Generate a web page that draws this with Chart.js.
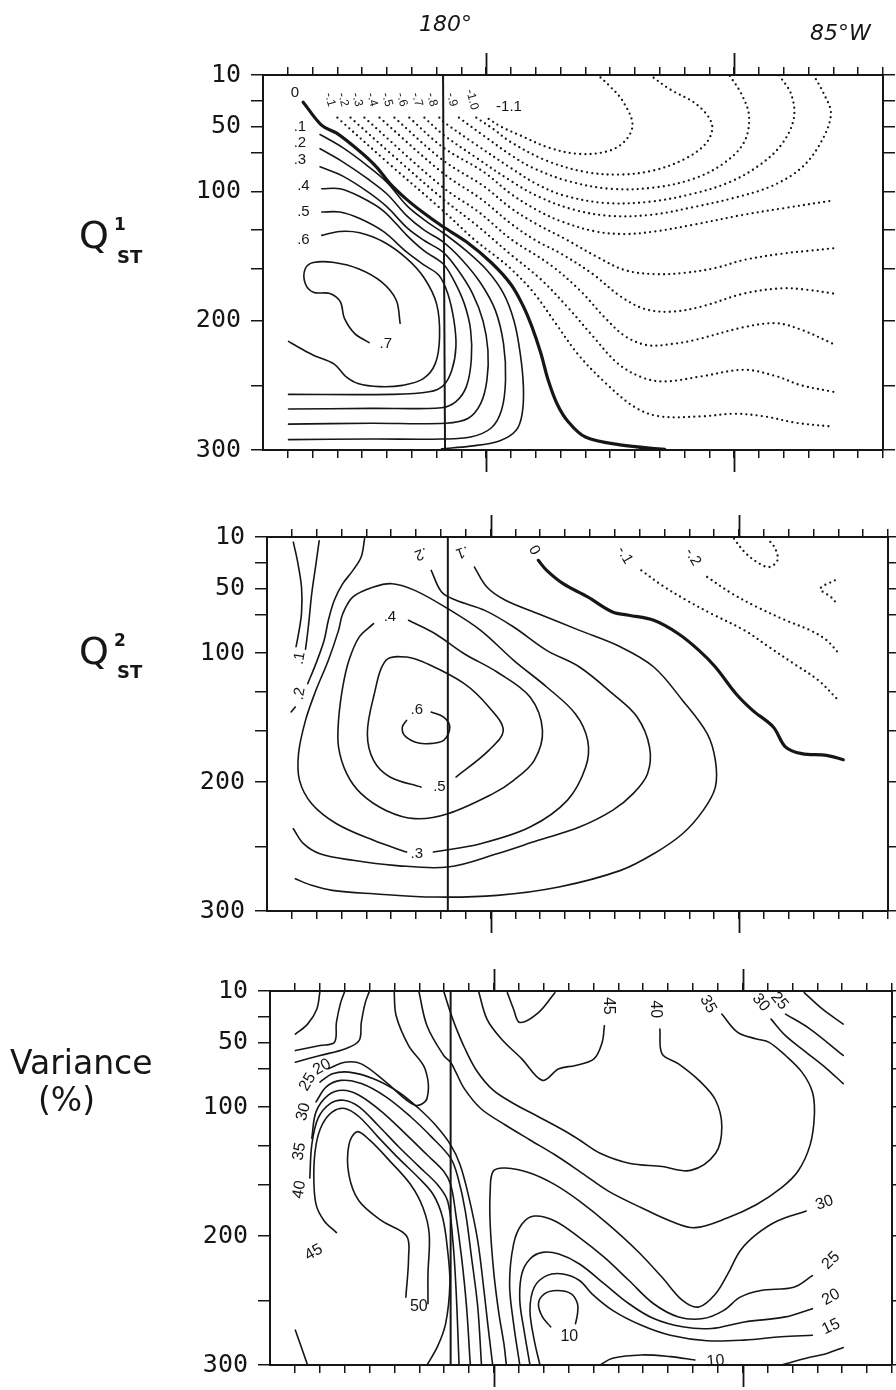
<!DOCTYPE html>
<html>
<head>
<meta charset="utf-8">
<title>Q_ST modes and explained variance</title>
<script src="https://cdn.jsdelivr.net/npm/chart.js"></script>
<style>
  body { margin: 0; background: #fff; }
  #page { position: relative; width: 896px; height: 1390px; overflow: hidden; }
  canvas { position: absolute; left: 0; }
  .hand { position: absolute; font-family: "DejaVu Sans", sans-serif; color: #161616; white-space: nowrap; line-height: 1; }
</style>
</head>
<body>
<div id="page">
  <canvas id="p1" width="896" height="490" style="top:0px"></canvas>
  <canvas id="p2" width="896" height="460" style="top:490px"></canvas>
  <canvas id="p3" width="896" height="440" style="top:950px"></canvas>

  <div class="hand" style="left:419px;top:13px;font-size:22px;font-style:italic">180°</div>
  <div class="hand" style="left:810px;top:22px;font-size:22px;font-style:italic">85°W</div>

  <div class="hand" style="left:79px;top:216px;font-size:38px">Q</div>
  <div class="hand" style="left:114px;top:216px;font-size:17px;font-weight:bold">1</div>
  <div class="hand" style="left:117px;top:248px;font-size:18px;font-weight:bold">ST</div>

  <div class="hand" style="left:79px;top:632px;font-size:38px">Q</div>
  <div class="hand" style="left:114px;top:632px;font-size:17px;font-weight:bold">2</div>
  <div class="hand" style="left:117px;top:663px;font-size:18px;font-weight:bold">ST</div>

  <div class="hand" style="left:10px;top:1046px;font-size:33px">Variance</div>
  <div class="hand" style="left:38px;top:1083px;font-size:33px">(%)</div>
</div>

<script>
// depth axis (m) and longitude grid columns
const depthTicks = [10, 30, 50, 70, 100, 130, 160, 200, 250, 300];
const depthLabels = [10, 50, 100, 200, 300];
const lonTicks = [1, 2, 3, 4, 5, 6, 7, 8, 9, 10, 11, 12, 13, 14, 15, 16, 17, 18, 19, 20, 21, 22, 23, 24, 25];
const majorLon = [9, 19];

// ---------- Q1 ST ----------
const q1Meridian = [7.26, 7.34];
const q1Zero = [[1.62,31],[2.37,49],[2.97,55],[3.9,69],[4.57,81],[5.12,94],[5.78,106],[6.43,116],[7.23,127],[8.2,139],[9.2,155],[10.0,172],[10.5,189],[10.85,205],[11.2,225],[11.5,246],[11.85,264],[12.3,278],[13.0,290],[14.4,296],[16.2,299.5]];
const q1P1 = [[2.3,56],[3.2,66],[4.2,80],[5.0,93],[5.8,111],[6.5,122],[7.26,132],[8.2,146],[9.03,161],[9.7,179],[10.12,200],[10.37,225],[10.5,251],[10.45,272],[10.2,285],[9.53,293],[8.37,297],[7.2,299]];
const q1P2 = [[2.3,67],[3.2,77],[4.2,90],[5.0,102],[5.8,119],[6.5,130],[7.26,139],[8.03,153],[8.78,171],[9.37,192],[9.7,218],[9.78,246],[9.62,269],[9.2,283],[8.37,290],[7.2,291.5],[4.37,291.5],[1.03,292]];
const q1P3 = [[2.3,81],[3.2,88],[4.2,100],[5.0,112],[5.8,128],[6.5,138],[7.26,147],[7.87,161],[8.45,179],[8.87,200],[9.07,223],[9.03,246],[8.78,264],[8.28,275.5],[7.37,279.3],[4.37,279.3],[1.03,280]];
const q1P4 = [[2.37,98],[3.1,98],[3.9,104],[4.85,115],[5.8,134],[6.5,146],[7.26,156],[7.7,169],[8.12,187],[8.37,207],[8.4,230],[8.2,251],[7.78,262.6],[7.2,267.3],[4.37,267.8],[1.03,268.3]];
const q1P5 = [[2.37,116],[3.1,116],[3.9,121],[4.85,131],[5.8,147],[6.5,157],[7.1,165],[7.45,179],[7.7,200],[7.78,220],[7.62,238],[7.28,250],[6.7,255],[5.2,257],[1.03,257]];
const q1P6 = [[2.37,134],[3.1,131],[3.9,132],[4.85,139],[5.8,152],[6.5,167],[7.0,187],[7.12,212],[6.95,233],[6.45,245],[5.62,250],[4.7,251],[3.83,248.5],[3.33,243],[2.87,233.6],[2.03,226.7],[1.45,220.7],[1.03,216]];
const q1P7 = [[5.53,202],[5.37,184],[4.78,170],[3.87,160],[2.87,155],[2.03,155],[1.7,160],[1.7,171],[2.03,178],[2.7,179],[3.12,185.5],[3.28,198],[3.7,210],[4.28,217]];
const q1N1 = [[3.0,43],[5.1,79],[7.26,115],[8.5,137],[9.5,152],[10.0,160],[10.9,178],[11.8,202],[12.7,226],[13.8,248],[15.0,267],[16.0,274],[17.7,274],[19.0,272],[20.2,274],[21.5,279],[23.0,282]];
const q1N2 = [[3.53,43],[5.4,75],[7.26,106],[8.6,126],[10.0,149],[11.2,168],[12.3,190],[13.3,212],[14.3,233],[15.3,244],[16.2,247],[17.7,243],[19.4,238],[20.7,243],[21.7,250],[23.0,255]];
const q1N3 = [[4.09,43],[7.26,97],[8.7,116],[10.0,137],[11.6,157],[12.8,177],[13.8,198],[14.6,212],[15.5,219],[16.5,218],[17.4,215],[19.4,205],[20.7,202],[21.7,207],[23.0,218]];
const q1N4 = [[4.7,43],[7.26,86],[8.8,106],[10.0,125],[11.0,138],[12.0,148],[13.3,164],[14.4,181],[15.4,191],[16.5,193],[17.7,189],[19.4,179],[20.9,175],[21.9,176],[23.0,179]];
const q1N5 = [[5.3,43],[7.26,76],[8.9,96],[10.0,113],[11.0,125],[12.2,137],[13.5,151],[14.6,161],[15.8,164],[17.0,163],[18.3,159],[19.4,153],[21.0,148],[22.0,146],[23.0,144]];
const q1N6 = [[5.9,43],[7.26,66],[8.9,85],[10.0,102],[11.0,114],[12.0,123],[13.4,131],[14.6,133],[15.8,131],[17.3,126],[19.4,118],[21.0,113],[23.0,107]];
const q1N7 = [[6.51,43],[7.26,56],[8.6,74],[10.0,92],[11.1,104],[12.5,114],[14.0,119],[15.7,118],[17.4,112],[19.0,105],[20.5,96],[21.7,82],[22.5,62],[22.9,40],[22.6,24],[22.2,10]];
const q1N8 = [[7.11,43],[7.26,46],[8.6,64],[10.0,82],[11.0,94],[12.1,103],[13.8,109],[15.6,108],[17.3,102],[18.8,93],[20.0,80],[20.9,64],[21.4,44],[21.3,25],[20.8,10]];
const q1N9 = [[7.9,43],[8.9,57],[10.0,72],[10.9,82],[12.3,92],[14.0,98],[15.8,97],[17.4,90],[18.6,78],[19.4,62],[19.6,42],[19.3,25],[18.8,10]];
const q1N10 = [[8.6,43],[9.3,52],[10.0,62],[11.4,76],[13.0,85],[14.4,87],[15.7,84],[17.0,75],[17.9,62],[18.1,48],[17.5,33],[16.4,21],[15.6,10]];
const q1N11 = [[9.1,44],[9.6,50],[10.4,57],[11.5,66],[12.7,71],[13.9,69],[14.6,61],[14.9,48],[14.5,30],[14.0,19],[13.5,10]];
const q1Labels = [[1.29,24,'0'],[1.49,50,'.1'],[1.49,62.6,'.2'],[1.49,75.7,'.3'],[1.63,95.8,'.4'],[1.63,115.6,'.5'],[1.63,137.6,'.6'],[4.95,218,'.7'],[9.92,34.7,'-1.1']];
const q1NegLabels = [[2.7,29,'-.1'],[3.23,29,'-.2'],[3.79,29,'-.3'],[4.4,29,'-.4'],[5.0,29,'-.5'],[5.6,29,'-.6'],[6.21,29,'-.7'],[6.81,29,'-.8'],[7.62,29,'-.9'],[8.43,29,'-1.0']];

// ---------- Q2 ST ----------
const q2Meridian = [7.28, 7.28];
const q2Zero = [[10.92,28.1],[11.26,35.9],[11.92,46.2],[12.91,56.5],[13.91,68.2],[14.57,70.7],[15.57,74.6],[16.56,85],[17.39,97.9],[18.05,110.8],[18.88,131.5],[19.55,144.4],[20.38,157.3],[20.88,172.9],[21.53,178],[22.53,179.3],[23.2,182.7]];
const q2TongueA = [[1.06,14],[1.22,28],[1.39,49],[1.39,69],[1.27,85],[1.17,95]];
const q2TongueB = [[2.1,13],[1.97,31],[1.8,54],[1.69,75],[1.6,90],[1.55,97]];
const q2LeftTwo = [[3.93,11.3],[3.79,25.5],[3.46,35.9],[3.05,46.2],[2.71,59.1],[2.47,74.6],[2.3,90.1],[1.97,108.2],[1.64,123.7]];
const q2LeftTwoTail = [[1.14,141.8],[0.97,145.7]];
const q2One = [[8.35,33.3],[8.85,48.8],[9.6,59.1],[10.92,69.5],[12.58,82.4],[14.24,95.3],[15.57,110.8],[16.73,136.7],[17.72,162.5],[18.05,183.2],[18.05,203.9],[17.56,222],[16.73,240.1],[15.57,255.6],[14.24,268.5],[11.75,281.4],[9.26,287.9],[6.77,289.2],[4.29,286.6],[2.63,284],[1.8,280.1],[1.14,275]];
const q2Two = [[6.61,35.9],[7.03,52.7],[7.61,59.1],[8.77,66.9],[9.93,79.8],[11.26,97.9],[12.58,110.8],[13.91,131.5],[14.9,149.6],[15.4,172.9],[15.32,193.5],[14.74,209],[13.91,222],[12.58,234.9],[10.92,245.2],[9.26,255.6],[7.28,265.9],[5.12,264.6],[3.46,260.7],[2.13,255.6],[1.47,247.8],[1.06,236.2]];
const q2Three = [[6.7,254.3],[8.6,247.8],[10.59,234.9],[12.09,214.2],[12.83,188.4],[12.91,167.7],[12.41,147],[11.26,126.3],[9.93,105.6],[8.6,82.4],[7.28,65.6],[5.95,51.4],[5.04,46.2],[4.29,48.8],[3.46,56.5],[3.05,69.5],[2.88,82.4],[2.47,105.6],[1.97,128.9],[1.55,152.2],[1.27,178],[1.31,198.7],[1.8,216.8],[2.8,232.3],[4.29,245.2],[5.62,254.3]];
const q2Four = [[5.7,74.6],[6.77,85],[7.94,100.5],[9.26,114.7],[10.59,134.1],[11.09,159.9],[10.76,183.2],[9.93,198.7],[9.1,209],[7.28,224.6],[5.95,228.4],[4.79,222],[3.79,209],[3.21,193.5],[2.88,172.9],[2.88,152.2],[3.05,126.3],[3.3,105.6],[3.71,87.6],[4.29,77.2]];
const q2Five = [[7.61,196.1],[8.93,175.4],[9.51,159.9],[8.93,141.8],[7.94,123.7],[6.44,108.2],[5.62,103.1],[4.79,105.6],[4.29,134.1],[4.04,162.5],[4.29,183.2],[4.95,196.1],[6.2,203.9]];
const q2Six = [[6.61,145.7],[7.11,149.6],[7.36,157.3],[7.11,167.7],[6.44,170.3],[5.95,169],[5.53,163.8],[5.45,157.3],[5.62,152.2]];
const q2N1 = [[15.07,35.9],[15.9,47.5],[16.89,59.1],[17.89,69.5],[19.22,82.4],[20.21,95.3],[21.2,108.2],[22.2,121.2],[22.94,135.4]];
const q2N2 = [[17.72,41],[18.72,53.9],[19.72,64.3],[20.88,74.6],[21.87,82.4],[22.53,90.1],[23.03,100.5]];
const q2N3 = [[18.8,11.3],[19.22,21.6],[19.72,29.4],[20.21,33.3],[20.55,28.1],[20.46,19],[20.21,12.6]];
const q2N3b = [[22.86,43.6],[22.28,50.1],[22.7,56.5],[22.94,61.7]];
const q2Labels = [[1.31,104,'.1'],[1.31,131.5,'.2'],[6.2,22.9,'.2'],[7.86,21.6,'.1'],[10.76,20.3,'0'],[14.4,24.2,'-.1'],[17.14,25.5,'-.2'],[4.95,72,'.4'],[6.03,144.4,'.6'],[6.94,203.9,'.5'],[6.03,255.6,'.3']];
const q2LabelAngles = [-80, -80, 160, 160, 60, 60, 60, 0, 0, 0, 0];

// ---------- Variance (%) ----------
const vMeridian = [7.26, 7.26];
const vTop1 = [[1.02,43.4],[1.51,35.7],[1.88,24.1],[2.01,10]];
const vTop2 = [[1.02,56.2],[2.01,52.3],[2.59,49.8],[2.67,34.4],[2.84,19],[3.01,10]];
const vTop3 = [[1.02,65.2],[2.01,60],[3.01,54.9],[3.58,48.5],[3.67,34.4],[3.83,19],[4,10]];
const vH20 = [[2.34,70.3],[3.01,65.2],[3.67,66.5],[4.66,80.6],[5.82,98.5],[6.31,93.4],[6.23,70.3],[5.57,52.3],[5.07,29.2],[4.99,10]];
const vH25 = [[2.01,80.6],[2.51,74.2],[3.17,72.9],[4.16,78],[5.16,88.3],[5.98,101.1],[6.65,113.9],[7.26,129.3],[7.64,144.7],[8.0,170.4],[8.35,203.7],[8.6,242.2],[8.75,267.9],[8.95,300]];
const vH30 = [[1.85,96],[2.26,84.4],[2.84,79.3],[3.67,81.8],[4.66,92.1],[5.65,107.5],[6.48,122.9],[7.26,139.6],[7.56,155],[7.85,180.6],[8.1,216.6],[8.35,255],[8.5,300]];
const vH35 = [[1.68,124.2],[1.85,103.7],[2.34,90.8],[2.92,87],[3.58,90.8],[4.5,103.7],[5.49,121.6],[6.31,137],[6.98,149.8],[7.26,160.1],[7.45,180.6],[7.7,216.6],[7.9,255],[8.05,300]];
const vH40 = [[1.6,155],[1.68,129.3],[1.93,108.8],[2.43,97.2],[2.97,94.7],[3.58,99.8],[4.33,113.9],[5.16,130.6],[5.98,146],[6.73,160.1],[7.14,172.9],[7.35,203.7],[7.48,242.2],[7.6,300]];
const vH45 = [[2.67,197.3],[2.18,188.3],[1.85,175.5],[1.76,152.4],[1.85,129.3],[2.09,113.9],[2.51,103.7],[3.01,101.1],[3.58,107.5],[4.33,122.9],[5.16,139.6],[5.98,155],[6.56,167.8],[6.94,185.8],[7.14,211.4],[7.23,237.1],[7.06,267.9],[6.73,285.8],[6.31,300]];
const vH50 = [[5.46,247.4],[5.57,216.6],[5.49,199.9],[4.5,188.3],[3.58,172.9],[3.17,152.4],[3.17,129.3],[3.5,119.1],[4,125.5],[4.83,142.1],[5.65,160.1],[6.15,178.1],[6.4,198.6],[6.35,229.4],[6.35,252.5]];
const vLowLeft = [[1.02,273],[1.51,300]];
const vR50 = [[9.54,11.3],[9.79,24.1],[10.04,34.4],[10.79,26.7],[11.45,11.3]];
const vR45 = [[8.38,10],[8.72,31.8],[9.3,47.2],[10.12,62.6],[10.95,79.3],[11.61,70.3],[12.28,67.7],[13.02,62.6],[13.35,49.8],[13.44,36.9]];
const vR40 = [[15.67,39.5],[15.76,58.8],[16.42,66.5],[17.24,79.3],[17.91,94.7],[18.16,115.2],[17.91,135.8],[16.91,149.1],[15.76,146.1],[14.43,143.5],[13.27,135.8],[12.44,125.5],[11.78,117.8],[10.79,107.5],[9.79,97.2],[8.97,86.9],[8.3,71.6],[7.81,53.6],[7.47,38.2],[7.23,25.4],[6.98,10]];
const vR35 = [[18.16,27.9],[18.8,42.1],[19.56,47.2],[20.06,49.8],[20.72,60],[21.38,72.9],[21.8,88.3],[21.88,106.2],[21.71,129.3],[21.22,149.8],[20.55,162.7],[19.56,175.5],[18.4,185.8],[17.08,193.5],[16.09,188.3],[14.93,178.1],[13.6,165.2],[12.44,149.8],[11.45,137],[10.45,125.5],[9.46,113.9],[8.47,101.1],[7.81,85.7],[7.47,72.9],[7.26,65.2],[6.98,60],[6.31,36.9],[5.98,10]];
const vR30 = [[21.55,180.6],[20.39,188.3],[19.56,198.6],[18.9,211.4],[18.4,229.4],[17.91,244.8],[17.24,255],[16.58,249.9],[15.76,232],[14.76,211.4],[13.6,190.9],[12.44,172.9],[11.45,160.1],[10.45,151.1],[9.46,147.3],[8.97,149.8],[8.85,165.2],[8.85,190.9],[9.0,229.4],[9.2,260.2],[9.4,283.3],[9.5,300]];
const vR25 = [[21.8,230.7],[21.05,239.7],[19.73,242.2],[18.9,247.4],[18.24,257.6],[17.41,264],[16.42,262.7],[15.42,252.5],[14.43,234.5],[13.44,216.6],[12.44,201.2],[11.45,188.3],[10.62,184.5],[10.12,190.9],[9.79,206.3],[9.63,237.1],[9.79,267.9],[10.04,300]];
const vR20 = [[21.8,256.3],[20.72,262.7],[19.07,266.6],[17.74,271.7],[16.58,270.4],[15.42,264],[14.43,252.5],[13.44,237.1],[12.44,221.7],[11.61,214],[10.95,212.7],[10.45,217.8],[10.12,229.4],[10.04,249.9],[10.21,273],[10.45,300]];
const vR15 = [[21.8,276.9],[20.55,278.1],[19.07,280.7],[17.57,281.2],[16.09,276.9],[14.93,269.2],[13.77,257.6],[12.94,244.8],[12.44,234.5],[11.78,229.4],[11.12,230.7],[10.62,239.7],[10.45,257.6],[10.62,280.7],[10.85,300]];
const vC10 = [[11.28,270.4],[10.95,262.7],[10.79,252.5],[11.03,244.8],[11.53,242.2],[12.11,244.8],[12.36,252.5],[12.36,260.2],[12.28,267.9]];
const vB10a = [[13.27,300],[13.77,294.8],[14.93,292.2],[16.09,293.5],[17.08,296.1]];
const vB10b = [[20.55,300],[21.55,294.8],[22.38,291],[23.04,286.4]];
const vT30 = [[20.14,31.8],[20.72,44.6],[21.55,57.5],[22.38,70.3],[23.04,81.8]];
const vT25 = [[20.72,27.9],[21.71,39.5],[23.04,60]];
const vT20 = [[21.47,11.3],[22.21,24.1],[23.04,35.7]];
const vLabels = [[13.6,21.5,'45'],[15.5,24.1,'40'],[17.61,20.3,'35'],[19.73,19,'30'],[20.47,17.7,'25'],[22.29,174.2,'30'],[22.55,219.1,'25'],[22.55,247.4,'20'],[22.55,270.4,'15'],[12.03,278.1,'10'],[17.91,297,'10'],[5.98,255,'50'],[2.09,69,'20'],[1.51,80.6,'25'],[1.35,103.7,'30'],[1.18,134.5,'35'],[1.18,164,'40'],[1.76,212.7,'45']];
const vLabelAngles = [90, 90, 60, 50, 50, -20, -45, -30, -25, 0, -5, 0, -30, -60, -75, -80, -80, -30];

// ---------- drawing ----------
const INK = '#161616';

const contourLabelPlugin = {
  id: 'contourLabels',
  afterDatasetsDraw(chart, args, opts) {
    const { ctx, scales: { x, y } } = chart;
    ctx.save();
    ctx.fillStyle = INK;
    ctx.textAlign = 'center';
    ctx.textBaseline = 'middle';
    opts.groups.forEach(g => {
      ctx.font = g.size + 'px "Liberation Sans", sans-serif';
      g.items.forEach((it, i) => {
        const a = Array.isArray(g.angles) ? g.angles[i] : g.angles;
        ctx.save();
        ctx.translate(x.getPixelForValue(it[0]), y.getPixelForValue(it[1]));
        ctx.rotate(a * Math.PI / 180);
        ctx.fillText(it[2], 0, 0);
        ctx.restore();
      });
    });
    ctx.restore();
  }
};

// longer marks at the two labelled meridians
const majorTickPlugin = {
  id: 'majorTicks',
  afterDraw(chart) {
    const { ctx, chartArea: a, scales: { x } } = chart;
    ctx.save();
    ctx.strokeStyle = INK;
    ctx.lineWidth = 1.8;
    majorLon.forEach(v => {
      const px = Math.round(x.getPixelForValue(v)) + 0.5;
      ctx.beginPath();
      ctx.moveTo(px, a.top); ctx.lineTo(px, a.top - 22);
      ctx.moveTo(px, a.bottom); ctx.lineTo(px, a.bottom + 22);
      ctx.stroke();
    });
    ctx.restore();
  }
};

function buildPanel(id, geo, solid, thick, dotted, meridian, groups) {
  const sets = [];
  const add = (pts, w, dash) => sets.push({
    data: pts.map(p => ({ x: p[0], y: p[1] })),
    showLine: true, pointRadius: 0, borderColor: INK, borderWidth: w,
    borderDash: dash, borderCapStyle: 'round', borderJoinStyle: 'round',
    tension: 0.35
  });
  solid.forEach(p => add(p, 1.6, []));
  thick.forEach(p => add(p, 3.2, []));
  dotted.forEach(p => add(p, 2.3, [0, 5.2]));
  sets.push({
    data: [{ x: meridian[0], y: 10 }, { x: meridian[1], y: 300 }],
    showLine: true, pointRadius: 0, borderColor: INK, borderWidth: 2, tension: 0
  });

  const grid = { display: true, drawOnChartArea: false, drawTicks: true, tickLength: 8, color: INK, lineWidth: 1.5 };
  const border = { display: true, color: INK, width: 2 };
  const lonSteps = s => { s.ticks = lonTicks.map(v => ({ value: v })); };
  const depthSteps = s => { s.ticks = depthTicks.map(v => ({ value: v })); };

  new Chart(document.getElementById(id), {
    type: 'scatter',
    data: { datasets: sets },
    options: {
      responsive: false,
      animation: false,
      devicePixelRatio: 1,
      layout: { padding: 0 },
      plugins: {
        legend: { display: false },
        tooltip: { enabled: false },
        contourLabels: { groups: groups }
      },
      scales: {
        x: {
          type: 'linear', position: 'bottom', min: 0, max: 25,
          grid: grid, border: border, ticks: { display: false },
          afterBuildTicks: lonSteps,
          afterFit: s => { s.height = geo.h - geo.bottom; }
        },
        xTop: {
          type: 'linear', position: 'top', min: 0, max: 25,
          grid: grid, border: border, ticks: { display: false },
          afterBuildTicks: lonSteps,
          afterFit: s => { s.height = geo.top; }
        },
        y: {
          type: 'linear', position: 'left', min: 10, max: 300, reverse: true,
          grid: Object.assign({}, grid, { tickLength: 12 }), border: border,
          ticks: {
            autoSkip: false, padding: 10, color: INK,
            font: { family: 'DejaVu Sans Mono', size: 25 },
            callback: v => depthLabels.includes(v) ? String(v) : ''
          },
          afterBuildTicks: depthSteps,
          afterFit: s => { s.width = geo.left; }
        },
        yRight: {
          type: 'linear', position: 'right', min: 10, max: 300, reverse: true,
          grid: Object.assign({}, grid, { tickLength: 12 }), border: border,
          ticks: { display: false },
          afterBuildTicks: depthSteps,
          afterFit: s => { s.width = 896 - geo.right; }
        }
      }
    },
    plugins: [contourLabelPlugin, majorTickPlugin]
  });
}

buildPanel('p1', { left: 263, right: 883, top: 75, bottom: 450, h: 490 },
  [q1P1, q1P2, q1P3, q1P4, q1P5, q1P6, q1P7],
  [q1Zero],
  [q1N1, q1N2, q1N3, q1N4, q1N5, q1N6, q1N7, q1N8, q1N9, q1N10, q1N11],
  q1Meridian,
  [{ items: q1Labels, angles: 0, size: 15 }, { items: q1NegLabels, angles: 75, size: 12 }]);

buildPanel('p2', { left: 267, right: 888, top: 47, bottom: 421, h: 460 },
  [q2TongueA, q2TongueB, q2LeftTwo, q2LeftTwoTail, q2One, q2Two, q2Three, q2Four, q2Five, q2Six],
  [q2Zero],
  [q2N1, q2N2, q2N3, q2N3b],
  q2Meridian,
  [{ items: q2Labels, angles: q2LabelAngles, size: 15 }]);

buildPanel('p3', { left: 270, right: 892, top: 41, bottom: 418, h: 440 },
  [vTop1, vTop2, vTop3, vH20, vH25, vH30, vH35, vH40, vH45, vH50, vLowLeft, vR50, vR45, vR40, vR35, vR30, vR25, vR20, vR15, vC10, vB10a, vB10b, vT30, vT25, vT20],
  [],
  [],
  vMeridian,
  [{ items: vLabels, angles: vLabelAngles, size: 16 }]);
</script>
</body>
</html>
